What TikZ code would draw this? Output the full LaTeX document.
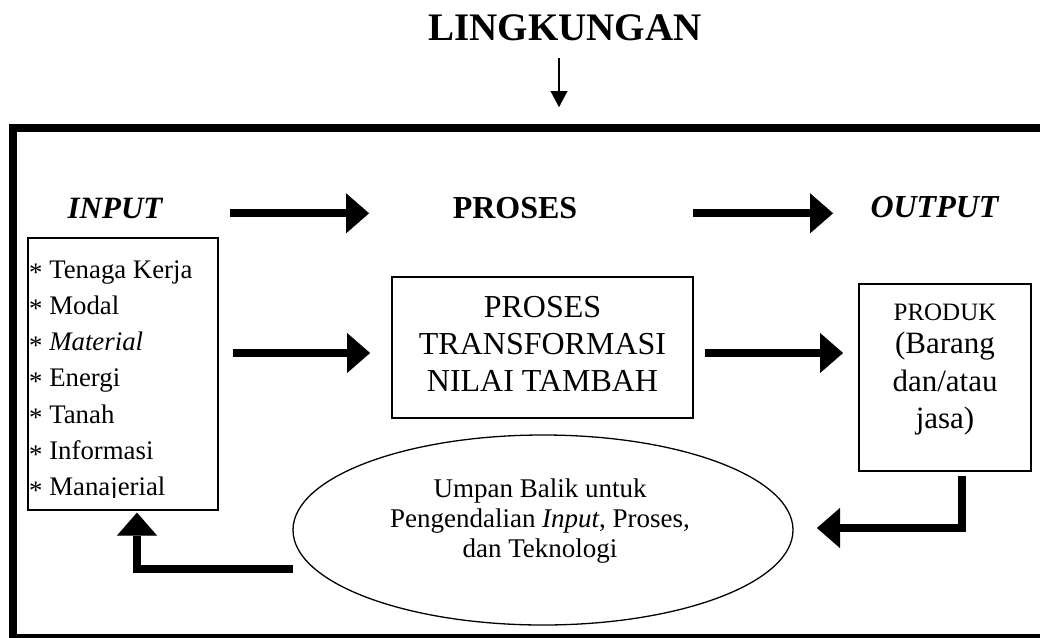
\documentclass[tikz,border=0pt]{standalone}
\usepackage{fontspec}
\setmainfont{Liberation Serif}
\usetikzlibrary{arrows.meta,shapes.geometric}
\begin{document}
\begin{tikzpicture}[x=1pt,y=-1pt,
  frame/.style={line width=8pt,line join=miter},
  box/.style={draw,line width=1.3pt,inner sep=0pt,rectangle},
  fat/.style={line width=8pt,line join=miter,
    -{Triangle[length=23pt,width=40pt,line width=0.1pt]}},
  thinarrow/.style={line width=2pt,
    -{Triangle[length=16pt,width=17pt,line width=0.1pt]}},
  lbl/.style={inner sep=0pt,anchor=base},
  item/.style={inner sep=0pt,anchor=base west,font=\fontsize{26.8}{30}\selectfont},
]
\useasboundingbox (0,0) rectangle (1040,637);

% environment frame (open on the right)
\draw[frame] (1060,127.5) -- (13,127.5) -- (13,638) -- (1060,638);

% environment label and its arrow
\node[lbl,font=\fontsize{39}{39}\selectfont\bfseries] (env) at (565,40) {LINGKUNGAN};
\coordinate (envS) at (559,58);
\coordinate (envE) at (559,107);
\draw[thinarrow] (envS) -- (envE);

% column headings
\node[lbl,font=\fontsize{31}{31}\selectfont\bfseries\itshape] (hin) at (115,218) {INPUT};
\node[lbl,font=\fontsize{32}{32}\selectfont\bfseries] (hpro) at (515,218) {PROSES};
\node[lbl,font=\fontsize{32}{32}\selectfont\bfseries\itshape] (hout) at (934.5,217) {OUTPUT};

\coordinate (t1s) at (230,213.3);
\coordinate (t1e) at (369,213.3);
\coordinate (t2s) at (693,213.3);
\coordinate (t2e) at (833,213.3);
\draw[fat] (t1s) -- (t1e);
\draw[fat] (t2s) -- (t2e);

% input box with its list (the last line is cut by the box)
\node[box,minimum width=190pt,minimum height=272pt] (inbox) at (123,374) {};
\begin{scope}
  \clip (28,238) rectangle (218,497.5);
  \node[item] (i1) at (29,278) {\raisebox{-3.5pt}{*} Tenaga Kerja};
  \node[item] (i2) at (29,314.3) {\raisebox{-3.5pt}{*} Modal};
  \node[item] (i3) at (29,350.6) {\raisebox{-3.5pt}{*} \textit{Material}};
  \node[item] (i4) at (29,386.9) {\raisebox{-3.5pt}{*} Energi};
  \node[item] (i5) at (29,423.2) {\raisebox{-3.5pt}{*} Tanah};
  \node[item] (i6) at (29,459.5) {\raisebox{-3.5pt}{*} Informasi};
  \node[item] (i7) at (29,495.8) {\raisebox{-3.5pt}{*} Manajerial};
\end{scope}

% transformation process box
\node[box,minimum width=301pt,minimum height=141pt] (probox) at (542.5,347.5) {};
\node[lbl,font=\fontsize{32}{32}\selectfont] (p1) at (542.5,317) {PROSES};
\node[lbl,font=\fontsize{32}{32}\selectfont] (p2) at (542.5,354) {TRANSFORMASI};
\node[lbl,font=\fontsize{32}{32}\selectfont] (p3) at (542.5,391) {NILAI TAMBAH};

% product box
\node[box,minimum width=172pt,minimum height=187pt] (prodbox) at (945,377.5) {};
\node[lbl,font=\fontsize{25}{25}\selectfont] (o1) at (945,320) {PRODUK};
\node[lbl,font=\fontsize{31}{31}\selectfont] (o2) at (945,353) {(Barang};
\node[lbl,font=\fontsize{31}{31}\selectfont] (o3) at (945,391) {dan/atau};
\node[lbl,font=\fontsize{31}{31}\selectfont] (o4) at (945,428) {jasa)};

% middle flow arrows
\coordinate (m1s) at (233,353);
\coordinate (m1e) at (370,353);
\coordinate (m2s) at (705,353);
\coordinate (m2e) at (843,353);
\draw[fat] (m1s) -- (m1e);
\draw[fat] (m2s) -- (m2e);

% feedback ellipse
\node[draw,ellipse,line width=1.3pt,inner sep=0pt,minimum width=500pt,minimum height=190pt] (fb) at (543,530) {};
\node[lbl,font=\fontsize{27}{27}\selectfont] (f1) at (540,497) {Umpan Balik untuk};
\node[lbl,font=\fontsize{27}{27}\selectfont] (f2) at (540,527) {Pengendalian \textit{Input}, Proses,};
\node[lbl,font=\fontsize{27}{27}\selectfont] (f3) at (540,557) {dan Teknologi};

% feedback arrows
\coordinate (fbR) at (817,528);
\coordinate (fbL) at (293,569);
\draw[fat] ([xshift=17pt,yshift=-4pt]prodbox.south) |- (fbR);
\draw[fat] (fbL) -| ([xshift=14pt,yshift=-2pt]inbox.south);
\end{tikzpicture}
\end{document}
